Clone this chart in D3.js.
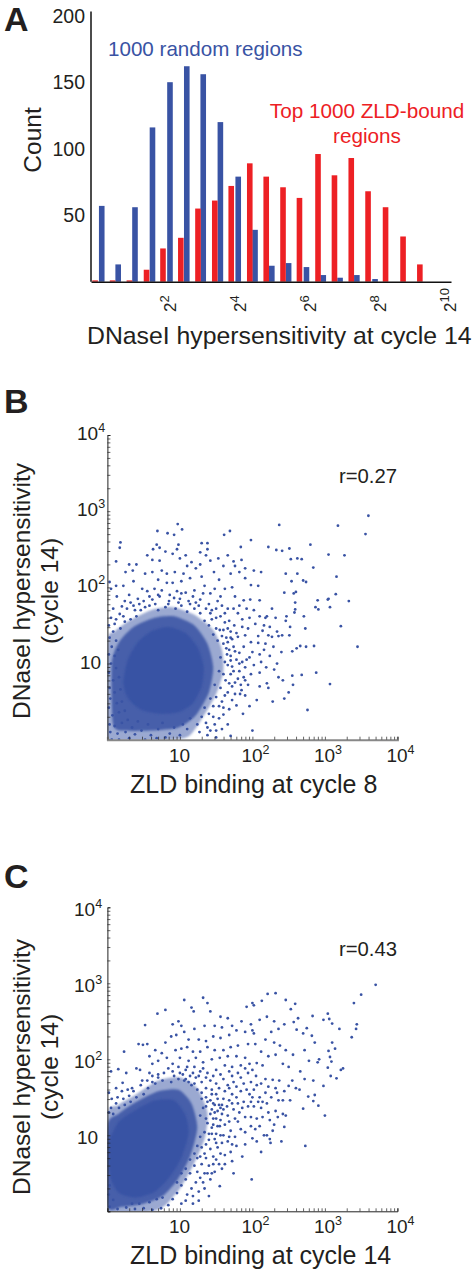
<!DOCTYPE html>
<html>
<head>
<meta charset="utf-8">
<style>
  body { margin: 0; background: #fff; }
  text { font-family: "Liberation Sans", Arial, sans-serif; fill: #231f20; }
</style>
<script src="https://cdn.jsdelivr.net/npm/d3@7"></script>
</head>
<body>
<div id="chart"></div>
<script>
'use strict';

// Panel A histogram, bin centre in log2 units and count
const randomBins = [0.05, 0.52, 1, 1.5, 2, 2.48, 2.95, 3.44, 3.95, 4.43, 4.91, 5.39, 5.9, 6.38, 6.86, 7.34, 7.86];
const randomCounts = [57, 13, 56, 116, 150, 162, 156, 120, 79, 39, 12, 14, 11, 5, 3, 5, 2];
const zldBins = [-0.14, 0.36, 0.84, 1.33, 1.8, 2.31, 2.8, 3.28, 3.75, 4.28, 4.75, 5.23, 5.7, 6.23, 6.7, 7.18, 7.66, 8.16, 8.66, 9.14];
const zldCounts = [1, 1, 1, 9, 25, 33, 55, 61, 72, 89, 79, 71, 63, 96, 80, 93, 68, 56, 34, 13];
const countTicks = [50, 100, 150, 200];
const log2Ticks = [2, 4, 6, 8, 10];
const decadeTicks = [1, 2, 3, 4];

// Panels B and C: the dense cloud cannot be read point by point, so it is kept
// as outlines. Everything is [log10 x, log10 y].
const cloudB = [
  [[0, 0], [0, 1.28], [0.1, 1.42], [0.3, 1.56], [0.6, 1.7], [0.9, 1.74], [1.2, 1.64], [1.46, 1.44], [1.58, 1.18], [1.6, 0.9], [1.5, 0.6], [1.32, 0.3], [1.14, 0.06], [0.9, 0]],
  [[0.08, 0.2], [0.06, 1.0], [0.16, 1.28], [0.36, 1.48], [0.65, 1.6], [0.92, 1.62], [1.2, 1.5], [1.38, 1.26], [1.46, 0.95], [1.4, 0.62], [1.22, 0.32], [0.98, 0.16], [0.6, 0.12], [0.25, 0.12]],
  [[0.22, 0.75], [0.28, 1.05], [0.42, 1.28], [0.62, 1.43], [0.85, 1.48], [1.08, 1.4], [1.25, 1.2], [1.33, 0.95], [1.3, 0.7], [1.18, 0.48], [0.98, 0.36], [0.72, 0.34], [0.45, 0.4], [0.28, 0.55]]
];
const cloudC = [
  [[0, 0], [0, 1.26], [0.15, 1.4], [0.4, 1.54], [0.7, 1.72], [1, 1.76], [1.24, 1.62], [1.38, 1.3], [1.34, 0.95], [1.18, 0.6], [1, 0.3], [0.8, 0.08], [0.6, 0]],
  [[0, 0.08], [0, 1.12], [0.15, 1.28], [0.4, 1.44], [0.7, 1.58], [0.98, 1.6], [1.16, 1.42], [1.24, 1.1], [1.14, 0.72], [0.97, 0.42], [0.76, 0.2], [0.5, 0.1], [0.2, 0.06]],
  [[0.04, 0.45], [0.02, 0.9], [0.16, 1.18], [0.4, 1.34], [0.66, 1.46], [0.92, 1.46], [1.08, 1.26], [1.12, 1.02], [1.02, 0.7], [0.86, 0.45], [0.66, 0.26], [0.4, 0.18], [0.16, 0.24]]
];

const dotsB = [
  [3.6,2.94],[3.56,2.7],[3.18,2.81],[2.37,2.82],[0.97,2.83],[1.03,2.76],[0.69,2.74],[0.83,2.71],[0.92,2.69],[1.69,2.74],[1.61,2.69],[1.98,2.62],
  [2.8,2.56],[2.22,2.53],[2.51,2.51],[2.33,2.49],[2.41,2.48],[1.84,2.53],[1.3,2.58],[1.38,2.58],[0.18,2.59],[0.17,2.52],[0.12,2.34],[3.05,2.43],[3.27,2.42],
  [2.84,2.26],[3.16,2.14],[2.53,2.37],[2.62,2.38],[2.68,2.37],[2.46,2.18],[2.62,2.18],[2.54,2.08],[2.7,2.09],[2.74,2.07],[2.44,1.93],[2.6,1.94],[2.57,1.92],
  [3.15,1.91],[3.05,1.85],[3.04,1.84],[3.33,1.82],[2.9,1.83],[2.87,1.74],[2.91,1.71],[3.07,1.74],[3.22,1.49],[3.45,1.22],[3.07,0.73],[2.76,0.39],[2.88,0.88],
  [2.68,0.85],[2.85,1.23],[2.74,1.22],[2.66,1.23],[2.73,1.46],[2.71,1.62],[2.59,1.71],[2.59,1.8],[2.58,1.67],[2.47,1.62],[2.46,1.56],[2.52,1.48],[2.41,1.37],
  [2.51,1.37],[2.36,1.36],[2.27,1.35],[2.22,1.37],[2.14,1.43],[2.18,1.26],[2.29,1.22],[2.4,1.15],[2.55,1.16],[2.61,1.2],[2.55,0.84],[2.56,0.72],[2.5,0.62],[2.44,0.54],
  [2.2,0.74],[2.22,0.68],[2.28,0.5],[2.3,0.92],[2.19,0.95],[2.12,1.02],[2,1.15],[2.08,1.27],[1.98,1.28],[1.9,1.37],[1.88,1.22],[1.8,1.35],[1.92,1.05],[1.94,0.72],[1.85,0.65],
  [2.06,0.52],[2,0.12],[1.87,0.34],[1.83,0.6],[1.78,0.45],[1.72,0.52],[1.66,0.2],[1.7,0.05],[1.5,0.03],[1.38,0.06],[1.48,0.2],[1.6,0.33],[1.58,0.5],[1.66,0.62],[1.76,0.75],
  [1.7,0.86],[1.82,0.9],[1.88,0.82],[1.78,1.05],[1.7,1.1],[1.74,1.22],[1.66,1.28],[1.7,1.42],[1.64,1.34],[1.75,1.5],[1.86,1.58],[1.96,1.6],[2.1,1.62],[2.18,1.6],[2.02,1.7],[2.04,1.52],
  [2.16,1.5],[2.24,1.48],[2.34,1.42],[2.32,1.6],[2.27,1.72],[2.1,1.83],[1.97,1.84],[1.88,1.83],[1.76,1.88],[1.62,1.98],[1.72,2],[1.9,2.12],[1.98,2.03],[2.08,2.02],[2.12,2.2],[2.02,2.22],
  [1.9,2.25],[1.82,2.2],[1.7,2.18],[1.76,2.28],[1.6,2.28],[1.54,2.1],[1.47,2.2],[1.53,2.38],[1.42,2.35],[1.36,2.42],[1.28,2.46],[1.38,2.5],[1.66,2.42],[1.74,2.34],[1.85,2.36],[1.48,1.98],
  [1.56,1.88],[1.42,1.92],[1.34,2.02],[1.3,2.14],[1.22,2.25],[1.28,2.3],[1.16,2.33],[1.08,2.42],[1.1,2.28],[1,2.38],[0.96,2.5],[0.98,2.56],[0.9,2.44],[0.8,2.47],[0.72,2.52],[0.68,2.56],[0.63,2.5],
  [0.55,2.42],[0.62,2.36],[0.72,2.35],[0.75,2.22],[0.82,2.18],[0.93,2.2],[1.05,2.18],[1.02,2.08],[1.14,2.12],[0.9,2.06],[0.82,2.06],[0.7,2.1],[0.62,2.2],[0.52,2.18],[0.4,2.3],[0.3,2.3],[0.35,2.22],
  [0.25,2.2],[0.36,2.08],[0.22,2.02],[0.12,2.02],[0.05,1.98],[0.03,2.07],[0.13,1.88],[0.24,1.82],[0.3,1.9],[0.42,1.85],[0.48,1.98],[0.55,1.95],[0.65,1.98],[0.75,1.96],[0.72,1.88],[0.86,1.9],[0.96,1.95],
  [1.08,1.93],[1.18,1.88],[1.28,1.84],[1.22,1.8],[1.12,1.82],[1,1.85],[0.85,1.82],[0.62,1.84],[0.5,1.82],[0.36,1.76],[0.27,1.72],[0.17,1.65],[0.12,1.58],[0.05,1.6],[0.02,1.5],[1.36,1.72],[1.42,1.66],
  [1.5,1.72],[1.56,1.62],[1.62,1.54],[1.55,1.44],[1.66,1.46],[1.68,1.18],[1.72,0.96],[1.66,0.98],[1.63,0.78],[1.54,0.28],[1.42,0.12],[1.27,0.1],[0.06,0],[0.16,0],[0.3,0.02],[0.52,0],[0.68,0.02],[0.8,0.03]
];
// thick band round the cloud, dot positions estimated by eye
const fringeB = [
  [1.4,1.5],[1.46,1.38],[1.52,1.3],[1.6,1.26],[1.58,1.36],[1.5,1.46],[1.44,1.58],[1.34,1.56],[1.28,1.66],[1.2,1.72],[1.1,1.68],[1.02,1.76],[0.94,1.72],[0.8,1.74],[0.7,1.7],[0.58,1.76],[0.46,1.7],[0.4,1.62],
  [0.32,1.58],[0.24,1.55],[0.18,1.46],[0.08,1.42],[0.03,1.34],[0.12,1.3],[0.06,1.22],[0.02,1.12],[0.1,1.1],[0.15,1.18],[0.05,1],[0.12,0.94],[0.02,0.88],[0.08,0.78],[0.16,0.82],[0.03,0.68],[0.1,0.62],[0.18,0.66],
  [0.04,0.54],[0.13,0.48],[0.2,0.5],[0.02,0.42],[0.07,0.32],[0.16,0.36],[0.24,0.38],[0.03,0.2],[0.1,0.18],[0.2,0.22],[0.28,0.26],[0.04,0.1],[0.14,0.08],[0.25,0.1],[0.34,0.16],[0.42,0.24],[0.38,0.07],[0.47,0.12],
  [0.56,0.2],[0.6,0.06],[0.7,0.14],[0.76,0.22],[0.86,0.08],[0.92,0.16],[1,0.06],[1.04,0.2],[1.1,0.14],[1.14,0.28],[1.24,0.2],[1.3,0.3],[1.36,0.22],[1.4,0.34],[1.46,0.44],[1.34,0.42],[1.5,0.56],[1.42,0.54],[1.56,0.68],
  [1.48,0.72],[1.6,0.86],[1.54,0.9],[1.62,1.02],[1.56,1.08],[1.65,1.12],[1.72,1.32],[1.78,1.4],[1.82,1.14],[1.86,1.02],[1.8,0.8],[1.72,0.7],[1.68,0.4],[1.6,0.42],[1.76,0.6],[1.9,0.95],[1.96,1.08],[1.58,0.14],[1.5,0.12],
  [1.44,1.7],[1.52,1.82],[1.32,1.92],[1.2,1.96],[1.02,1.92],[0.92,1.86],[0.7,1.9],[0.58,1.88],[0.44,1.78],[0.2,1.75],[0.08,1.72],[0.32,1.8],[1.66,1.72],[1.62,1.66],[1.8,1.66],[1.86,1.48],[1.94,1.46],[1.68,1.56],
  [2.08,1.36],[2.1,1.12],[2.02,0.98],[2.1,0.88],[1.98,0.86],[1.9,0.58],[1.96,0.44],[2.1,0.7],[2.16,1.18],[2.24,1.1],[2.34,1],[2.36,0.82],[2.42,0.78],[2.2,1.62],[1.92,1.72],[1.82,1.76],[1.74,1.72],[1.58,1.76],
  [1.64,1.2],[1.7,1.04],[1.68,0.74],[1.62,0.58],[1.54,0.44],[1.46,0.3],[1.38,0.16],[1.74,0.9],[1.76,1.16],[1.82,1],[1.84,0.72],[1.9,0.78],[1.7,1.34],[1.6,1.44],[1.5,1.6],[1.4,1.78],[1.26,1.76],[1.14,1.78],[0.98,1.8],[0.84,1.78],[0.66,1.78],[0.52,1.74],[0.38,1.7],[0.22,1.62],[0.1,1.52]
];

const dotsC = [
  [3.7,2.98],[3.5,2.85],[3.4,2.74],[3.44,2.46],[3.43,2.4],[3.37,2.29],[3.2,2.4],[3.1,2.22],[3.14,2.14],[3.05,2.11],[3.07,2.03],[3.09,1.97],[3.04,1.89],[3.25,1.88],[3.22,1.86],[3.08,1.78],[3.16,1.75],
  [3.04,2.6],[2.98,2.52],[3.06,2.53],[3.1,2.47],[2.83,2.57],[2.75,2.41],[2.61,2.39],[2.57,2.49],[2.63,2.54],[2.7,2.34],[2.82,2.31],[2.86,2.22],[2.32,2.87],[2.21,2.86],[2.46,2.78],[2.59,2.73],[2.53,2.66],
  [2.13,2.77],[2,2.74],[2.02,2.71],[1.92,2.69],[1.32,2.81],[1.38,2.74],[1.06,2.78],[0.8,2.65],[0.69,2.6],[0.52,2.45],[1.16,2.68],[1.19,2.63],[1.42,2.63],[0.23,2.1],[0.05,1.84],[0.15,1.87],[0.43,2.2],[0.49,2.19],
  [0.26,1.82],[0.21,1.69],[0.4,1.88],[0.45,1.86],[2.73,0.86],[1.99,0.42],[3,1.26],[2.4,0.92],[2.44,1.11],[2.91,1.39],[2.86,1.53],[2.77,1.51],[2.84,1.45],[2.7,1.35],[2.65,1.6],[2.72,1.74],[2.66,1.84],[2.55,1.72],
  [2.6,1.62],[2.5,1.65],[2.44,1.58],[2.37,1.72],[2.28,1.73],[2.22,1.64],[2.32,1.62],[2.36,1.46],[2.42,1.28],[2.35,1.24],[2.32,1.32],[2.46,1.26],[2.52,1.46],[2.2,1.42],[2.18,1.56],[2.12,1.36],[2.08,1.44],[2,1.5],
  [2.02,1.38],[2.06,1.22],[1.98,1.12],[2.1,1.12],[2.2,1],[2.28,1.06],[2.24,0.95],[2.25,0.9],[2.12,0.78],[2.06,0.92],[2,0.96],[1.9,0.88],[1.86,0.72],[1.78,0.86],[1.72,0.66],[1.74,0.5],[1.58,0.56],[1.5,0.68],
  [1.42,0.42],[1.34,0.3],[1.4,0.2],[1.26,0.14],[1.18,0.1],[1.1,0.22],[1.22,0.38],[1.55,0.33],[1.62,0.74],[1.66,0.92],[1.6,1],[1.7,1.06],[1.55,1.12],[1.48,0.95],[1.42,0.82],[1.36,0.7],[1.3,0.62],[1.24,0.52],[1.5,1.22],
  [1.58,1.28],[1.68,1.18],[1.76,1.22],[1.82,1.3],[1.9,1.24],[1.94,1.38],[1.8,1.42],[1.72,1.42],[1.65,1.38],[1.58,1.4],[1.48,1.4],[1.42,1.46],[1.36,1.5],[1.5,1.54],[1.62,1.58],[1.72,1.54],[1.84,1.58],[1.92,1.6],[1.98,1.7],
  [2.12,1.68],[2.05,1.78],[1.94,1.82],[1.84,1.76],[1.72,1.78],[1.6,1.74],[1.5,1.68],[1.42,1.72],[1.36,1.62],[1.3,1.7],[1.22,1.76],[1.14,1.78],[1.06,1.72],[1,1.82],[0.92,1.78],[0.84,1.88],[0.78,1.82],[0.7,1.8],[0.62,1.78],
  [0.55,1.72],[0.46,1.66],[0.36,1.58],[0.3,1.52],[0.22,1.48],[0.12,1.42],[0.05,1.36],[0.62,1.94],[0.7,1.98],[0.75,2.08],[0.66,2.12],[0.58,2.04],[0.55,2.2],[0.82,2.02],[0.9,1.94],[0.98,1.9],[1.08,1.86],[1.2,1.9],[1.28,1.84],
  [1.38,1.82],[1.5,1.86],[1.62,1.92],[1.72,1.9],[1.84,1.92],[1.96,1.94],[2.06,1.95],[2.14,1.92],[1.9,2.02],[1.78,2.04],[1.66,2.04],[1.55,2.02],[1.44,2],[1.32,1.96],[1.22,2.02],[1.12,1.98],[1,2.02],[0.94,2.12],[1.02,2.14],
  [1.1,2.16],[1.18,2.1],[1.28,2.1],[1.38,2.16],[1.48,2.12],[1.6,2.12],[1.7,2.16],[1.8,2.18],[1.94,2.2],[2.04,2.2],[2.12,2.1],[2.22,2.04],[2.32,2.06],[2.42,1.94],[2.5,1.9],[2.56,2.06],[2.46,2.12],[2.38,2.18],[2.3,2.22],
  [2.18,2.26],[2.02,2.34],[2,2.38],[1.9,2.36],[1.78,2.38],[1.68,2.32],[1.56,2.28],[1.46,2.3],[1.36,2.24],[1.26,2.26],[1.12,2.26],[1.06,2.36],[0.95,2.32],[0.88,2.3],[0.8,2.22],[1.2,2.4],[1.34,2.44],[1.48,2.44],[1.58,2.42],
  [1.72,2.44],[1.85,2.5],[1.98,2.46],[2.1,2.52],[2.2,2.56],[2.3,2.5],[2.44,2.46],[2.36,2.4],[2.26,2.36],[1.66,2.54],[1.56,2.56],[0.98,2.5],[1.02,2.44],[0.9,2.46],[2.92,2],[2.9,1.96],[2.98,1.65],[2.84,1.72],[2.78,1.98],[2.72,2.12]
];
const fringeC = [
  [1.24,1.6],[1.3,1.48],[1.36,1.38],[1.42,1.28],[1.38,1.16],[1.44,1.1],[1.34,1.04],[1.4,0.94],[1.3,0.84],[1.34,0.76],[1.24,0.7],[1.2,0.6],[1.14,0.5],[1.08,0.42],[1.02,0.34],[0.96,0.24],[0.9,0.16],[0.84,0.08],[0.74,0.04],
  [1.16,1.66],[1.08,1.74],[0.98,1.74],[0.88,1.7],[0.76,1.72],[0.66,1.68],[0.56,1.62],[0.5,1.54],[0.4,1.5],[0.32,1.44],[0.24,1.4],[0.16,1.36],[0.08,1.28],[0.02,1.3],[0.62,0.02],[0.5,0.04],[0.38,0.03],[0.26,0.05],[0.14,0.03],[0.03,0.06],
  [0.02,0.22],[0.08,0.15],[0.03,0.34],[0.34,0.1],[0.44,0.1],[0.58,0.12],[0.68,0.16],[0.76,0.18],[1.46,1.42],[1.52,1.32],[1.56,1.2],[1.62,1.14],[1.5,1.02],[1.58,0.9],[1.52,0.84],[1.46,0.72],[1.4,0.6],[1.34,0.5],[1.28,0.44],[1.16,0.3],
  [1.08,0.14],[1.02,0.1],[1.48,0.52],[1.62,0.62],[1.7,0.78],[1.76,0.98],[1.84,1.08],[1.9,1.04],[1.8,1.18],[1.98,1.24],[2.04,1.08],[1.88,1.44],[2.14,1.24],[2.22,1.3],[2.26,1.5],[2.1,1.5],[2.02,1.6],[1.88,1.68],[1.78,1.64],[1.66,1.66],
  [1.54,1.62],[1.44,1.6],[1.36,1.76],[1.26,1.78],[1.18,1.82],[1.44,1.34],[1.52,1.48],[1.6,1.48],[1.68,1.46],[1.74,1.34],[1.66,1.26],[1.6,1.34],[1.54,1.4],[1.46,1.22],[1.52,1.12],[1.44,1.02],[1.56,1],[1.68,0.98],[1.72,0.88],[1.56,0.76],
  [1.46,0.62],[1.38,0.5],[1.26,0.26],[1.32,0.38],[1.18,0.2],[1.68,1.62],[1.78,1.5],[1.86,1.36],[1.98,1.44],[2.14,1.44],[2.24,1.2],[2.3,1.14],[2.16,1],[2.34,1.56],[2.42,1.46],[2.06,1.66],[2.18,1.74],[1.96,1.54],[0.7,1.76],[0.62,1.7],
  [0.48,1.72],[0.34,1.62],[0.28,1.6],[0.14,1.5],[0.06,1.48],[0.02,1.56],[0.12,1.62],[0.2,1.58],[0.9,1.84],[1.04,1.8],[0.58,1.82],[1.1,1.9],[1.32,1.88],[1.46,1.78],[1.56,1.8],[1.68,1.84],[1.74,1.7],[1.8,1.82],[1.9,1.88],[2,1.86],
  [1.28,1.26],[1.32,1.36],[1.36,1.22],[1.28,0.98],[1.24,0.86],[1.2,0.76],[1.14,0.68],[1.08,0.56],[1.02,0.5],[0.96,0.38],[1.3,1.56],[1.2,1.68],[1.12,1.7],[1.38,1.44],[1.48,1.3],[1.4,1.02],[1.36,0.88],[1.28,0.72],[1.5,0.9],[1.46,1.14],[1.56,1.36],[1.44,1.54],[1.54,0.62],[1.44,0.5]
];

const width = 476;
const height = 1275;
const inkBlue = '#3953a4';
const inkRed = '#ed2024';

const svg = d3.select('#chart').append('svg')
    .attr('width', width)
    .attr('height', height)
    .style('display', 'block');

const defs = svg.append('defs');
defs.append('filter')
    .attr('id', 'soft')
    .append('feGaussianBlur')
    .attr('stdDeviation', 0.9);

// number with a raised exponent, placed through a caller supplied transform
function powerLabel(g, base, exp, size, supSize, anchor) {
    const t = g.append('text')
        .attr('font-size', size)
        .attr('text-anchor', anchor);
    t.append('tspan').text(base);
    if (exp) {
        t.append('tspan')
            .attr('dy', -size * 0.42)
            .attr('font-size', supSize)
            .text(exp);
    }
    return t;
}

function panelLetter(label, x, y) {
    svg.append('text')
        .attr('x', x)
        .attr('y', y)
        .attr('font-size', 34)
        .attr('font-weight', 'bold')
        .text(label);
}

function buildHistogram() {
    const left = 91;
    const right = 451;
    const bottom = 281.7;
    const barWidth = 5.6;

    const x = d3.scaleLinear().domain([-0.257, 10.03]).range([left, right]);
    const y = d3.scaleLinear().domain([0, 200]).range([bottom, 15.7]);

    const g = svg.append('g');

    g.selectAll('rect.random')
        .data(randomBins)
        .enter()
        .append('rect')
            .attr('class', 'random')
            .attr('x', d => x(d) - barWidth / 2)
            .attr('width', barWidth)
            .attr('y', (d, i) => y(randomCounts[i]))
            .attr('height', (d, i) => bottom - y(randomCounts[i]))
            .attr('fill', inkBlue);

    g.selectAll('rect.zld')
        .data(zldBins)
        .enter()
        .append('rect')
            .attr('class', 'zld')
            .attr('x', d => x(d) - barWidth / 2)
            .attr('width', barWidth)
            .attr('y', (d, i) => y(zldCounts[i]))
            .attr('height', (d, i) => bottom - y(zldCounts[i]))
            .attr('fill', inkRed);

    // axes, no tick marks in this panel
    const yAxis = g.append('g')
        .attr('transform', `translate(${left},0)`)
        .call(d3.axisLeft(y).tickValues(countTicks).tickSize(0).tickFormat(''));
    yAxis.select('.domain')
        .attr('d', `M0,${bottom}V11.5`)
        .attr('stroke', '#111')
        .attr('stroke-width', 1.5);

    const xAxis = g.append('g')
        .attr('transform', `translate(0,${bottom})`)
        .call(d3.axisBottom(x).tickValues(log2Ticks).tickSize(0).tickFormat(''));
    xAxis.select('.domain')
        .attr('stroke', '#111')
        .attr('stroke-width', 1.5);

    countTicks.forEach(d => {
        g.append('text')
            .attr('x', 85)
            .attr('y', y(d) + 7)
            .attr('font-size', 19.5)
            .attr('text-anchor', 'end')
            .text(d);
    });

    log2Ticks.forEach(d => {
        const tick = g.append('g')
            .attr('transform', `translate(${x(d) + 6},312) rotate(-90)`);
        powerLabel(tick, '2', String(d), 17, 13, 'start');
    });

    g.append('text')
        .attr('transform', 'translate(41,140) rotate(-90)')
        .attr('font-size', 24.5)
        .attr('text-anchor', 'middle')
        .text('Count');

    g.append('text')
        .attr('x', 87)
        .attr('y', 344)
        .attr('font-size', 24.8)
        .text('DNaseI hypersensitivity at cycle 14');

    g.append('text')
        .attr('x', 108)
        .attr('y', 56)
        .attr('font-size', 20.6)
        .style('fill', inkBlue)
        .text('1000 random regions');

    const redLabel = g.append('text')
        .attr('font-size', 20.7)
        .attr('text-anchor', 'middle')
        .style('fill', inkRed);
    redLabel.append('tspan').attr('x', 367).attr('y', 118).text('Top 1000 ZLD-bound');
    redLabel.append('tspan').attr('x', 367).attr('y', 143).text('regions');
}

function buildScatter(opts) {
    const { id, top, bottom, cloud, dots, xTitle, rLabel, rY, axisColor, axisWidth, yTitleY, yLabelDy, yLabelX } = opts;
    const left = 107.4;
    const right = 397.4;

    const x = d3.scaleLog().domain([1, 1e4]).range([left, right]);
    const y = d3.scaleLog().domain([1, 1e4]).range([bottom, top]);
    const px = d => x(Math.pow(10, d[0]));
    const py = d => y(Math.pow(10, d[1]));

    const g = svg.append('g');

    defs.append('clipPath')
        .attr('id', `plot-${id}`)
        .append('rect')
            .attr('x', left)
            .attr('y', top)
            .attr('width', right - left)
            .attr('height', bottom - top);

    const outline = d3.line().x(px).y(py).curve(d3.curveCardinalClosed.tension(0.3));
    const layerOpacity = [0.5, 0.86, 1];

    g.append('g')
        .attr('clip-path', `url(#plot-${id})`)
        .selectAll('path')
        .data(cloud)
        .enter()
        .append('path')
            .attr('d', outline)
            .attr('fill', inkBlue)
            .attr('fill-opacity', (d, i) => layerOpacity[i])
            .attr('filter', 'url(#soft)');

    g.append('g')
        .selectAll('circle')
        .data(dots)
        .enter()
        .append('circle')
            .attr('cx', px)
            .attr('cy', py)
            .attr('r', 1.4)
            .attr('fill', inkBlue);

    const minorTicks = x.ticks(); // 1..9 per decade
    const yAxis = g.append('g')
        .attr('transform', `translate(${left},0)`)
        .call(d3.axisRight(y).tickValues(minorTicks).tickSize(3).tickFormat(''));
    const xAxis = g.append('g')
        .attr('transform', `translate(0,${bottom})`)
        .call(d3.axisTop(x).tickValues(minorTicks).tickSize(3).tickFormat(''));
    [yAxis, xAxis].forEach(a => {
        a.select('.domain').attr('stroke', '#222').attr('stroke-width', 1);
        a.selectAll('line').attr('stroke', '#222').attr('stroke-width', 0.7);
    });
    xAxis.select('.domain').attr('stroke', axisColor).attr('stroke-width', axisWidth);

    decadeTicks.forEach(d => {
        const exp = d === 1 ? '' : String(d);
        const xg = g.append('g')
            .attr('transform', `translate(${x(Math.pow(10, d)) - 11},${bottom + 22})`);
        powerLabel(xg, '10', exp, 19, 12.5, 'start');
        const yg = g.append('g')
            .attr('transform', `translate(${d === 1 ? yLabelX + 3 : yLabelX},${y(Math.pow(10, d)) + yLabelDy})`);
        powerLabel(yg, '10', exp, 19, 12.5, 'start');
    });

    g.append('text')
        .attr('x', 130)
        .attr('y', bottom + 53)
        .attr('font-size', 25)
        .text(xTitle);

    g.append('text')
        .attr('x', 397)
        .attr('y', rY)
        .attr('font-size', 20.3)
        .attr('text-anchor', 'end')
        .text(rLabel);

    const yTitle = g.append('text')
        .attr('transform', `translate(30,${yTitleY}) rotate(-90)`)
        .attr('font-size', 24.5)
        .attr('text-anchor', 'middle');
    yTitle.append('tspan').attr('x', 0).attr('y', 0).text('DNaseI hypersensitivity');
    yTitle.append('tspan').attr('x', 0).attr('y', 28).text('(cycle 14)');
}

panelLetter('A', 4, 31);
panelLetter('B', 4, 413);
panelLetter('C', 4, 888);

buildHistogram();
buildScatter({
    id: 'b', top: 435, bottom: 739.7, cloud: cloudB, dots: dotsB.concat(fringeB),
    xTitle: 'ZLD binding at cycle 8', rLabel: 'r=0.27', rY: 483,
    axisColor: '#888', axisWidth: 2, yTitleY: 591, yLabelDy: 5, yLabelX: 77
});
buildScatter({
    id: 'c', top: 907.3, bottom: 1211.3, cloud: cloudC, dots: dotsC.concat(fringeC),
    xTitle: 'ZLD binding at cycle 14', rLabel: 'r=0.43', rY: 956,
    axisColor: '#222', axisWidth: 1, yTitleY: 1067, yLabelDy: 8.5, yLabelX: 74
});
</script>
</body>
</html>
